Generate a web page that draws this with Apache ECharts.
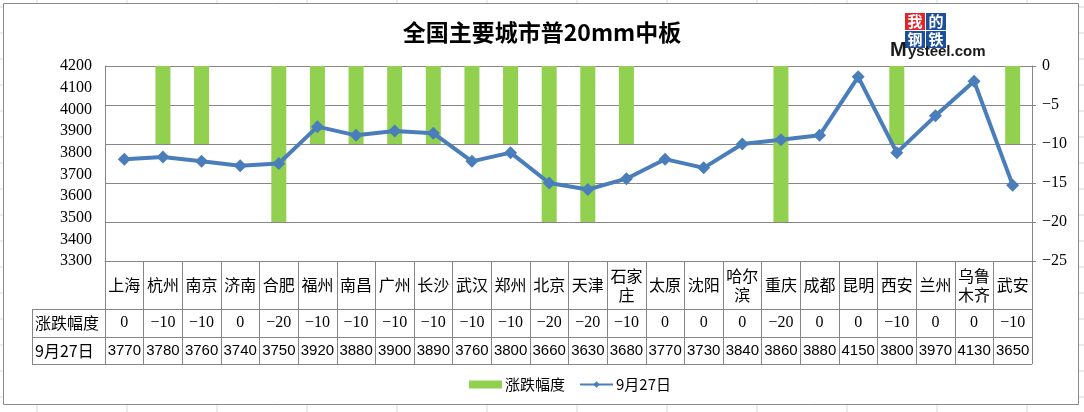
<!DOCTYPE html>
<html><head><meta charset="utf-8">
<script src="https://cdn.jsdelivr.net/npm/echarts@6/dist/echarts.min.js"></script>
<style>html,body{margin:0;padding:0;background:#fff}#c{width:1084px;height:412px}</style>
</head><body><div id="c"></div><script>
// ---- data ----
const cities = ['上海','杭州','南京','济南','合肥','福州','南昌','广州','长沙','武汉','郑州','北京','天津','石家庄','太原','沈阳','哈尔滨','重庆','成都','昆明','西安','兰州','乌鲁木齐','武安'];
const changes = [0,-10,-10,0,-20,-10,-10,-10,-10,-10,-10,-20,-20,-10,0,0,0,-20,0,0,-10,0,0,-10];
const prices = [3770,3780,3760,3740,3750,3920,3880,3900,3890,3760,3800,3660,3630,3680,3770,3730,3840,3860,3880,4150,3800,3970,4130,3650];
const seriesNames = ['涨跌幅度','9月27日'];
const priceAxis = [3300, 4200, 100];   // min, max, step
const changeAxis = [-25, 0, 5];        // min, max, step
const titleText = '全国主要城市普20mm中板';

// ---- layout ----
const G = {left:105, top:66, right:1032, bottom:261};
const rowY = [261, 309, 337, 364];
const tableLeft = 32;
const lineCol = '#868686';
const minus = v => String(v).replace('-', '−');
const serif = 'Liberation Serif';
const cjk = 'Noto Sans CJK SC';

const bg = [];
for (let k = 0; k < 12; k++) {
  const x = 37 + 90 * k;
  bg.push({type:'line', z:-100, silent:true, shape:{x1:x,y1:0,x2:x,y2:412}, style:{stroke:'#d9d9d9', lineWidth:1}});
}
for (let k = 0; k < 16; k++) {
  const y = 7 + 26 * k;
  bg.push({type:'line', z:-100, silent:true, shape:{x1:0,y1:y,x2:1084,y2:y}, style:{stroke:'#d9d9d9', lineWidth:1}});
}
bg.push({type:'rect', z:-90, silent:true, shape:{x:3.5,y:3.5,width:1075,height:401}, style:{fill:'#fff', stroke:'#8a8a8a', lineWidth:1}});
// table horizontal lines & header column
const tbl = [];
[rowY[1], rowY[2], rowY[3]].forEach(y => tbl.push({type:'line', z:10, silent:true, shape:{x1:tableLeft,y1:y+0.5,x2:G.right,y2:y+0.5}, style:{stroke:lineCol, lineWidth:1}}));
tbl.push({type:'line', z:10, silent:true, shape:{x1:tableLeft+0.5,y1:rowY[1],x2:tableLeft+0.5,y2:rowY[3]}, style:{stroke:lineCol, lineWidth:1}});
tbl.push({type:'text', z:10, silent:true, x:tableLeft+3, y:(rowY[1]+rowY[2])/2, style:{text:seriesNames[0], font:'16px "'+cjk+'"', fill:'#000', verticalAlign:'middle'}});
tbl.push({type:'text', z:10, silent:true, x:tableLeft+3, y:(rowY[2]+rowY[3])/2, style:{text:seriesNames[1], font:'16px "'+cjk+'"', fill:'#000', verticalAlign:'middle'}});
// logo
const logo = [];
const lx = 905, ly = 13, bw = 21, bh = 18;
[['我','#e3242b',0,0],['的','#1d4f9c',1,0],['钢','#1d4f9c',0,1],['铁','#1d4f9c',1,1]].forEach(([t,c,i,j]) => {
  logo.push({type:'rect', z:5, silent:true, shape:{x:lx+i*bw,y:ly+j*bh,width:bw-1,height:bh-1}, style:{fill:c}});
  logo.push({type:'text', z:6, silent:true, x:lx+i*bw+(bw-1)/2, y:ly+j*bh+(bh-1)/2, style:{text:t, font:'bold 15px "'+cjk+'"', fill:'#fff', align:'center', verticalAlign:'middle'}});
});
logo.push({type:'text', z:6, silent:true, x:890, y:60, style:{text:'M', font:'bold 20px "Liberation Sans"', fill:'#1a1a1a', verticalAlign:'bottom'}});
logo.push({type:'text', z:6, silent:true, x:908, y:59, style:{text:'ysteel.com', font:'bold 15px "Liberation Sans"', fill:'#1a1a1a', verticalAlign:'bottom'}});

const chart = echarts.init(document.getElementById('c'), null, {renderer:'canvas'});
chart.setOption({
  animation:false,
  backgroundColor:'transparent',
  title:{text:titleText, left:'center', top:16, textStyle:{fontFamily:cjk, fontSize:23, fontWeight:'bold', color:'#000'}},
  legend:{
    left:464, top:372, itemWidth:33, itemHeight:8, itemGap:14,
    textStyle:{fontFamily:cjk, fontSize:15, color:'#000', padding:[0,0,0,-2]},
    data:[{name:seriesNames[0], icon:'rect'},{name:seriesNames[1]}]
  },
  grid:{left:G.left, top:G.top, width:G.right-G.left, height:G.bottom-G.top, containLabel:false},
  xAxis:[
    {type:'category', data:cities, position:'bottom',
     axisLine:{show:true, onZero:false, lineStyle:{color:lineCol}},
     axisTick:{show:true, interval:0, alignWithLabel:false, length:rowY[3]-rowY[0], lineStyle:{color:lineCol}},
     axisLabel:{interval:0, margin:(rowY[1]-rowY[0])/2, verticalAlign:'middle', lineHeight:19, fontFamily:cjk, fontSize:16, color:'#000',
       formatter:v => v.length > 2 ? v.match(/.{1,2}/g).join('\n') : v}},
    {type:'category', data:cities, position:'bottom', offset:rowY[1]-rowY[0],
     axisLine:{show:false, onZero:false}, axisTick:{show:false},
     axisLabel:{interval:0, margin:(rowY[2]-rowY[1])/2, verticalAlign:'middle', fontFamily:serif, fontSize:16, color:'#000',
       formatter:(v,i) => minus(changes[i])}},
    {type:'category', data:cities, position:'bottom', offset:rowY[2]-rowY[0],
     axisLine:{show:false, onZero:false}, axisTick:{show:false},
     axisLabel:{interval:0, margin:(rowY[3]-rowY[2])/2, verticalAlign:'middle', fontFamily:'Liberation Sans', fontSize:15, color:'#000',
       formatter:(v,i) => String(prices[i])}}
  ],
  yAxis:[
    {type:'value', min:priceAxis[0], max:priceAxis[1], interval:priceAxis[2], position:'left',
     axisLine:{show:true, onZero:false, lineStyle:{color:lineCol}}, axisTick:{show:false}, splitLine:{show:false},
     axisLabel:{margin:13, fontFamily:serif, fontSize:16, color:'#000', formatter:v => String(v)}},
    {type:'value', min:changeAxis[0], max:changeAxis[1], interval:changeAxis[2], position:'right',
     axisLine:{show:true, onZero:false, lineStyle:{color:lineCol}}, axisTick:{show:true, length:4, lineStyle:{color:lineCol}},
     splitLine:{show:true, lineStyle:{color:lineCol, width:1}},
     axisLabel:{margin:10, fontFamily:serif, fontSize:16, color:'#000', formatter:v => minus(v)}}
  ],
  series:[
    {name:seriesNames[0], type:'bar', xAxisIndex:0, yAxisIndex:1, data:changes, barWidth:15,
     itemStyle:{color:'#92d050'}},
    {name:seriesNames[1], type:'line', xAxisIndex:0, yAxisIndex:0, data:prices,
     symbol:'diamond', symbolSize:13, lineStyle:{color:'#4a7ebb', width:4},
     itemStyle:{color:'#4a7ebb'}}
  ],
  graphic:{elements: bg.concat(tbl, logo)}
});
</script></body></html>
